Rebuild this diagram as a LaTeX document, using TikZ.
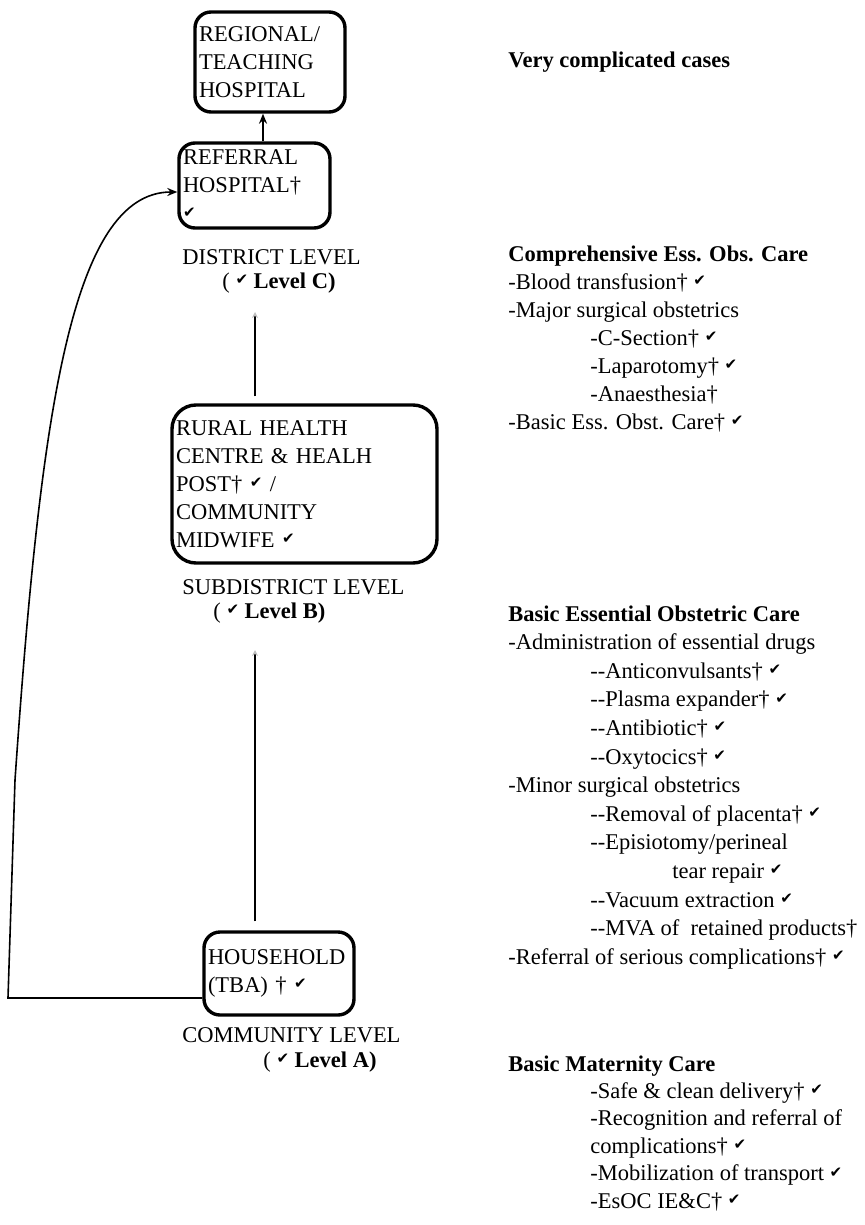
\documentclass[tikz,border=0pt]{standalone}
\usepackage{fontspec}
\setmainfont{Liberation Serif}
\newfontfamily\checkfont{DejaVu Sans}
\usepackage{tikz}
\usetikzlibrary{arrows.meta}
\newcommand{\chk}{\raisebox{0.35ex}{\checkfont\fontsize{7.5}{7.5}\selectfont ✔}}
\newcommand{\indA}{\hspace*{41pt}}
\newcommand{\indB}{\hspace*{82pt}}

\begin{document}
\begin{tikzpicture}[x=0.5pt,y=-0.5pt]
\tikzset{font=\fontsize{11.25}{14}\selectfont}
\tikzset{box/.style={draw, line width=1.7pt, rounded corners=8pt, align=left, inner xsep=2pt, inner ysep=0pt}}
\tikzset{lbl/.style={anchor=west, inner sep=0pt}}
\tikzset{care/.style={anchor=north west, align=left, inner sep=0pt}}
\tikzset{uparr/.style={line width=0.8pt, -{Stealth[length=5pt,width=4pt]}}}
\tikzset{faint/.style={line width=0.8pt, -{Stealth[length=3pt,width=3pt,gray!50]}}}
\useasboundingbox (0,0) rectangle (865,1225);

% the four levels of care
\node[box, minimum width=75pt, minimum height=50pt, text width=71pt] (regional) at (270,62) {REGIONAL/\\TEACHING\\HOSPITAL};
\node[box, minimum width=75.5pt, minimum height=42.5pt, text width=71.5pt] (referral) at (254.5,185.5) {REFERRAL\\HOSPITAL†\\\chk};
\node[box, rounded corners=12pt, minimum width=132.5pt, minimum height=79pt, text width=128.5pt] (rural) at (304.5,484) {RURAL HEALTH\\CENTRE \& HEALH\\POST† \chk\ /\\COMMUNITY\\MIDWIFE \chk};
\node[box, minimum width=75pt, minimum height=41.5pt, text width=71pt] (hh) at (279,973.5) {HOUSEHOLD\\(TBA) † \chk};

% level names
\node[lbl] (district) at (182,257) {DISTRICT LEVEL};
\node[lbl] (lvlC) at (222,283) {( \chk\ \textbf{Level C)}};
\node[lbl] (subdist) at (182,587) {SUBDISTRICT LEVEL};
\node[lbl] (lvlB) at (213,613) {( \chk\ \textbf{Level B)}};
\node[lbl] (commun) at (182,1035) {COMMUNITY LEVEL};
\node[lbl] (lvlA) at (263,1062) {( \chk\ \textbf{Level A)}};

% what each level does
\node[lbl] (veryc) at (508,62) {\textbf{Very complicated cases}};
\node[care] (compcare) at (508,245) {\textbf{Comprehensive Ess. Obs. Care}\\
-Blood transfusion† \chk\\
-Major surgical obstetrics\\
\indA-C-Section† \chk\\
\indA-Laparotomy† \chk\\
\indA-Anaesthesia†\\
-Basic Ess. Obst. Care† \chk};
\node[care, font=\fontsize{11.25}{14.3}\selectfont] (basiccare) at (508,605) {\textbf{Basic Essential Obstetric Care}\\
-Administration of essential drugs\\
\indA-{}-Anticonvulsants† \chk\\
\indA-{}-Plasma expander† \chk\\
\indA-{}-Antibiotic† \chk\\
\indA-{}-Oxytocics† \chk\\
-Minor surgical obstetrics\\
\indA-{}-Removal of placenta† \chk\\
\indA-{}-Episiotomy/perineal\\
\indB tear repair \chk\\
\indA-{}-Vacuum extraction \chk\\
\indA-{}-MVA of~ retained products†\\
-Referral of serious complications† \chk};
\node[care, font=\fontsize{11.25}{13.7}\selectfont] (matcare) at (508,1055) {\textbf{Basic Maternity Care}\\
\indA-Safe \& clean delivery† \chk\\
\indA-Recognition and referral of\\
\indA complications† \chk\\
\indA-Mobilization of transport \chk\\
\indA-EsOC IE\&C† \chk};

% referral arrows
\coordinate (topx) at (263,0);
\coordinate (spine) at (255,0);
\coordinate (ctip) at (255,312);
\coordinate (btip) at (255,650);
\coordinate (lcorner) at (8,998);
\coordinate (lbend) at (15,780);
\draw[uparr] (referral.north -| topx) -- (regional.south -| topx);
\draw[faint, shorten <=3.5pt] (rural.north -| spine) -- (ctip);
\draw[faint, shorten <=4.5pt] (hh.north -| spine) -- (btip);
\draw[uparr] ([yshift=-12.25pt]hh.west) -- (lcorner) -- (lbend) .. controls (40,420) and (70,192) .. ([yshift=-3.25pt]referral.west);
\end{tikzpicture}
\end{document}
